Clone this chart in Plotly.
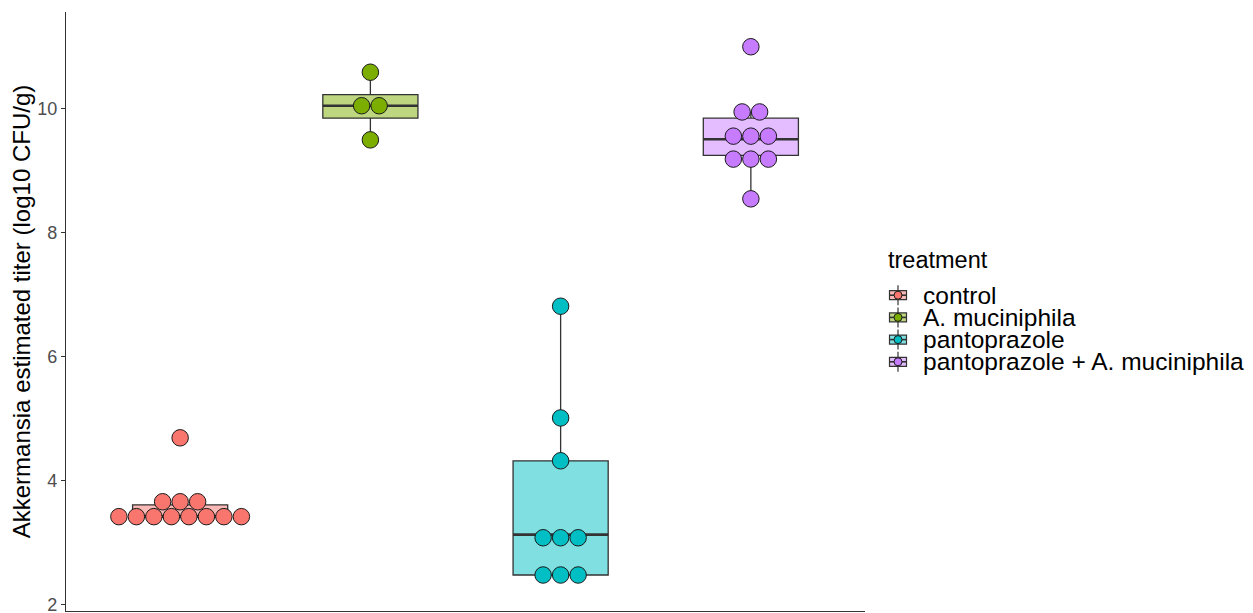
import plotly.graph_objects as go

# ---- data ----
treatments = ["control", "A. muciniphila", "pantoprazole", "pantoprazole + A. muciniphila"]
colors = ["#F8766D", "#7CAE00", "#00BFC4", "#C77CFF"]
fills = ["rgba(248,118,109,0.5)", "rgba(124,174,0,0.5)", "rgba(0,191,196,0.5)", "rgba(199,124,255,0.5)"]

control_vals = [3.42, 3.42, 3.42, 3.42, 3.42, 3.42, 3.42, 3.42, 3.66, 3.66, 3.66, 4.69]
akk_vals = [9.49, 10.04, 10.04, 10.58]
panto_vals = [2.48, 2.48, 2.48, 3.08, 3.08, 3.08, 4.32, 5.01, 6.81]
panto_akk_vals = [8.54, 9.18, 9.18, 9.18, 9.55, 9.55, 9.55, 9.94, 9.94, 10.99]
values = [control_vals, akk_vals, panto_vals, panto_akk_vals]

# box statistics as drawn (ggplot boxplot)
q1 = [3.42, 9.84, 2.48, 9.24]
median = [3.42, 10.04, 3.13, 9.50]
q3 = [3.61, 10.22, 4.32, 9.84]
lowerfence = [3.42, 9.49, 2.48, 8.54]
upperfence = [3.66, 10.58, 6.81, 9.94]

positions = [1, 2, 3, 4]
dot_step = 0.092   # horizontal distance between stacked dots (x units)
box_half = 0.25

# ---- layout geometry (screen pixels) ----
BODY = 8                      # default page margin of the html body
W, H = 1253, 613
PL, PR, PT, PB = 66, 865, 12, 611   # plot area on screen


def px_x(px):
    return (px - PL) / (PR - PL)


def px_y(py):
    return (PB - py) / (PB - PT)


fig = go.Figure()

for i, name in enumerate(treatments):
    fig.add_trace(go.Box(
        x=[positions[i]], q1=[q1[i]], median=[median[i]], q3=[q3[i]],
        lowerfence=[lowerfence[i]], upperfence=[upperfence[i]],
        width=2 * box_half, whiskerwidth=0,
        fillcolor=fills[i], line=dict(color="#333333", width=1.3),
        boxpoints=False, name=name, showlegend=False, hoverinfo="skip",
    ))
    # thicker median line (ggplot fatten)
    fig.add_trace(go.Scatter(
        x=[positions[i] - box_half, positions[i] + box_half], y=[median[i], median[i]],
        mode="lines", line=dict(color="#333333", width=2.6),
        showlegend=False, hoverinfo="skip",
    ))
    # dotplot: centred stacks of equal values
    vals = values[i]
    xs, ys = [], []
    for v in sorted(set(vals)):
        k = vals.count(v)
        for j in range(k):
            xs.append(positions[i] + (j - (k - 1) / 2) * dot_step)
            ys.append(v)
    fig.add_trace(go.Scatter(
        x=xs, y=ys, mode="markers",
        marker=dict(size=16.5, color=colors[i], line=dict(color="#1a1a1a", width=1)),
        showlegend=False, hoverinfo="skip",
    ))

# ---- legend (ggplot style keys) ----
shapes = []
annotations = [dict(
    text="treatment", xref="paper", yref="paper", x=px_x(886), y=px_y(260),
    xanchor="left", yanchor="middle", showarrow=False, font=dict(size=23.5, color="black"),
)]
key_x = 898
key_y0 = 295.2
key_dy = 22.2
for i, name in enumerate(treatments):
    cy = key_y0 + i * key_dy
    ax, ay = px_x(key_x), px_y(cy)
    # whisker
    shapes.append(dict(type="line", xref="paper", yref="paper", xsizemode="pixel", ysizemode="pixel",
                       xanchor=ax, yanchor=ay, x0=0, x1=0, y0=-10, y1=10,
                       line=dict(color="#333333", width=1.2), layer="above"))
    # box
    shapes.append(dict(type="rect", xref="paper", yref="paper", xsizemode="pixel", ysizemode="pixel",
                       xanchor=ax, yanchor=ay, x0=-8.5, x1=8.5, y0=-4.5, y1=4.5,
                       fillcolor=fills[i], line=dict(color="#333333", width=1.2), layer="above"))
    # median
    shapes.append(dict(type="line", xref="paper", yref="paper", xsizemode="pixel", ysizemode="pixel",
                       xanchor=ax, yanchor=ay, x0=-8.5, x1=8.5, y0=0, y1=0,
                       line=dict(color="#333333", width=1.6), layer="above"))
    # dot
    shapes.append(dict(type="circle", xref="paper", yref="paper", xsizemode="pixel", ysizemode="pixel",
                       xanchor=ax, yanchor=ay, x0=-4, x1=4, y0=-4, y1=4,
                       fillcolor=colors[i], line=dict(color="#1a1a1a", width=1), layer="above"))
    annotations.append(dict(
        text=name, xref="paper", yref="paper", x=px_x(921), y=px_y(cy),
        xanchor="left", yanchor="middle", showarrow=False, font=dict(size=24.5, color="black"),
    ))

fig.update_layout(
    width=W, height=H,
    margin=dict(l=PL - BODY, r=W - (PR - BODY), t=PT - BODY, b=H - (PB - BODY), autoexpand=False),
    plot_bgcolor="white", paper_bgcolor="white",
    font=dict(family="Liberation Sans, Arial, sans-serif", color="black"),
    showlegend=False,
    shapes=shapes, annotations=annotations,
    xaxis=dict(
        range=[0.4, 4.6], showticklabels=False, ticks="", showgrid=False,
        zeroline=False, showline=True, linecolor="#333333", linewidth=1.2,
        automargin=False,
    ),
    yaxis=dict(
        range=[1.90, 11.55], tickvals=[2, 4, 6, 8, 10], showgrid=False, zeroline=False,
        showline=True, linecolor="#333333", linewidth=1.2,
        ticks="outside", ticklen=4, tickcolor="#333333",
        tickfont=dict(size=18, color="#4D4D4D"), automargin=False,
        title=dict(text="Akkermansia estimated titer (log10 CFU/g)", font=dict(size=24), standoff=6),
    ),
)

fig.write_html("out.html")
